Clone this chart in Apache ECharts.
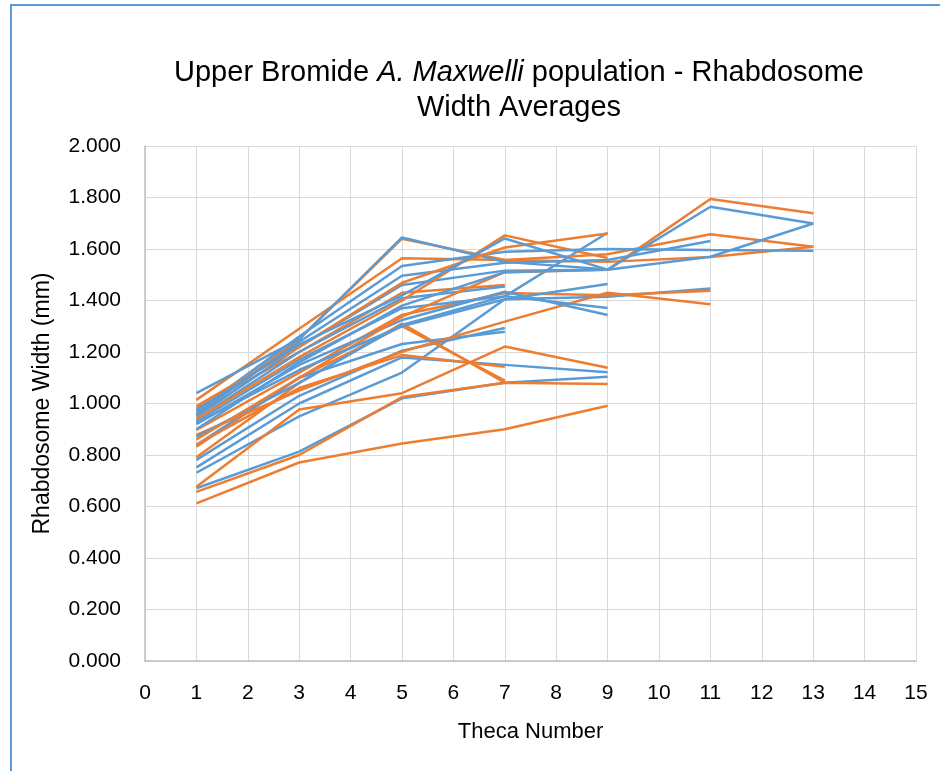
<!DOCTYPE html>
<html>
<head>
<meta charset="utf-8">
<script src="https://cdn.jsdelivr.net/npm/echarts@6/dist/echarts.min.js"></script>
<style>
  html, body { margin: 0; padding: 0; background: #fff; }
  #main { width: 940px; height: 771px; }
</style>
</head>
<body>
<div id="main"></div>
<script>
// theca positions measured on every specimen
var thecaNumbers = [1, 3, 5, 7, 9, 11, 13];
var xTicks = [0, 15, 1];
var yTicks = [0, 2, 0.2];

// orange specimens (rhabdosome width, mm)
var orangeWidths = [
    [0.612, 0.771, 0.845, 0.900, 0.991],
    [0.657, 0.800, 1.025, 1.081, 1.076],
    [0.677, 0.977, 1.040, 1.221, 1.139],
    [0.791, 1.080, 1.310, 1.081],
    [0.832, 1.100, 1.300, 1.089],
    [0.878, 1.050, 1.201, 1.318, 1.430, 1.385],
    [0.897, 1.120, 1.344, 1.429, 1.420, 1.438],
    [0.981, 1.200, 1.430, 1.460],
    [1.014, 1.290, 1.564, 1.557, 1.580, 1.657, 1.609],
    [0.955, 1.250, 1.640, 1.557, 1.550, 1.569, 1.609],
    [0.940, 1.180, 1.400, 1.653, 1.565],
    [0.860, 1.100, 1.337, 1.510, 1.519, 1.794, 1.739],
    [0.840, 1.060, 1.188, 1.143],
    [0.990, 1.220, 1.469, 1.606, 1.660]
];

// blue specimens (rhabdosome width, mm)
var blueWidths = [
    [0.671, 0.813, 1.020, 1.081, 1.104],
    [0.731, 0.950, 1.120, 1.405, 1.415, 1.447],
    [0.752, 1.000, 1.179, 1.150, 1.121],
    [0.781, 1.030, 1.205, 1.293],
    [0.839, 1.100, 1.231, 1.279],
    [0.870, 1.080, 1.305, 1.417, 1.371],
    [0.920, 1.150, 1.324, 1.434, 1.344],
    [0.930, 1.170, 1.370, 1.416, 1.663],
    [0.940, 1.200, 1.409, 1.454],
    [0.950, 1.220, 1.460, 1.516, 1.519, 1.570, 1.699],
    [0.960, 1.240, 1.496, 1.547, 1.557, 1.631],
    [0.970, 1.260, 1.534, 1.589, 1.600, 1.596, 1.593],
    [1.040, 1.250, 1.645, 1.550, 1.520, 1.764, 1.699],
    [0.975, 1.230, 1.420, 1.641, 1.520],
    [0.925, 1.130, 1.300, 1.405, 1.464],
    [0.900, 1.160, 1.380, 1.510, 1.520]
];

var ORANGE = '#ED7D31', BLUE = '#5B9BD5';
var FONT = 'Liberation Sans';

function makeSeries(vals, color) {
    return {
        type: 'line',
        showSymbol: false,
        symbol: 'none',
        lineStyle: { color: color, width: 2.5 },
        data: vals.map(function (v, i) { return [thecaNumbers[i], v]; })
    };
}

// orange and blue specimens drawn alternately, like the workbook
var series = [];
var n = Math.max(orangeWidths.length, blueWidths.length);
for (var i = 0; i < n; i++) {
    if (orangeWidths[i]) series.push(makeSeries(orangeWidths[i], ORANGE));
    if (blueWidths[i]) series.push(makeSeries(blueWidths[i], BLUE));
}

var chart = echarts.init(document.getElementById('main'), null, { renderer: 'canvas' });
chart.setOption({
    animation: false,
    backgroundColor: '#fff',
    title: {
        text: 'Upper Bromide {i|A. Maxwelli} population - Rhabdosome\nWidth Averages',
        left: 514, top: 50, textAlign: 'center',
        textStyle: {
            fontFamily: FONT, fontSize: 29, fontWeight: 'normal', color: '#000', lineHeight: 35,
            rich: { i: { fontFamily: FONT, fontSize: 29, fontStyle: 'italic', color: '#000' } }
        }
    },
    graphic: [{
        type: 'rect', silent: true,
        shape: { x: 11, y: 5, width: 1000, height: 1000 },
        style: { fill: 'none', stroke: BLUE, lineWidth: 2 }
    }],
    grid: { left: 145, right: 24, top: 146, bottom: 110 },
    xAxis: {
        type: 'value', min: xTicks[0], max: xTicks[1], interval: xTicks[2],
        name: 'Theca Number', nameLocation: 'middle', nameGap: 60,
        nameTextStyle: { fontFamily: FONT, fontSize: 22, color: '#000' },
        axisLine: { lineStyle: { color: '#BFBFBF', width: 1.5 } },
        axisTick: { show: false },
        axisLabel: { fontFamily: FONT, fontSize: 21, color: '#000', margin: 22 },
        splitLine: { show: true, lineStyle: { color: '#D9D9D9', width: 1 } }
    },
    yAxis: {
        type: 'value', min: yTicks[0], max: yTicks[1], interval: yTicks[2],
        name: 'Rhabdosome Width (mm)', nameLocation: 'middle', nameGap: 91,
        nameTextStyle: { fontFamily: FONT, fontSize: 23, color: '#000' },
        axisLine: { show: true, lineStyle: { color: '#BFBFBF', width: 1.5 } },
        axisTick: { show: false },
        axisLabel: {
            fontFamily: FONT, fontSize: 21, color: '#000', margin: 24,
            formatter: function (v) { return v.toFixed(3); }
        },
        splitLine: { show: true, lineStyle: { color: '#D9D9D9', width: 1 } }
    },
    series: series
});
</script>
</body>
</html>
